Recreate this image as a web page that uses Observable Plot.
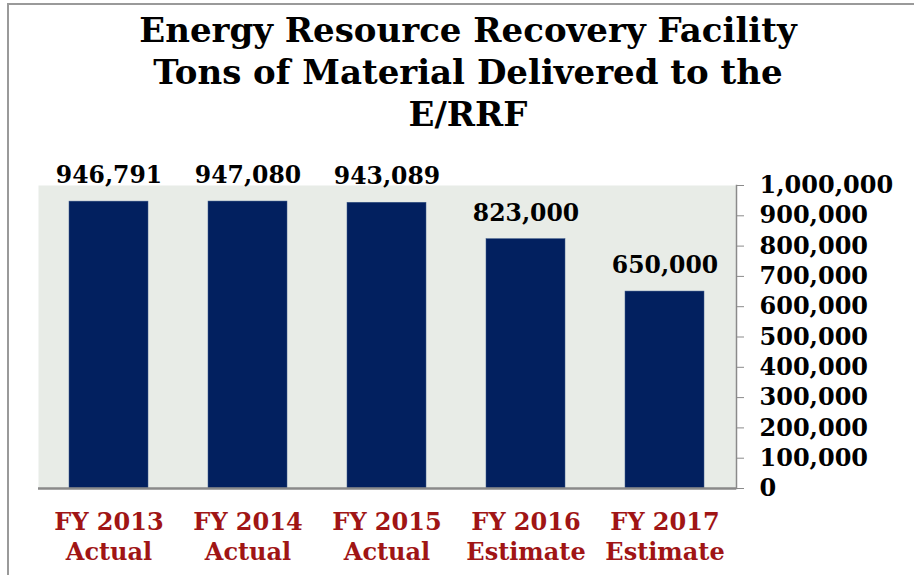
<!DOCTYPE html>
<html>
<head>
<meta charset="utf-8">
<script src="https://cdn.jsdelivr.net/npm/d3@7"></script>
<script src="https://cdn.jsdelivr.net/npm/@observablehq/plot@0.6"></script>
<style>
  html, body { margin: 0; padding: 0; background: #fff; }
  #page { position: relative; width: 914px; height: 575px; overflow: hidden; }
  #border { position: absolute; left: 7px; top: 3px; width: 1000px; height: 700px;
            border-left: 2px solid #9a9a9a; border-top: 2px solid #9a9a9a; }
  #title { position: absolute; left: 0; top: 0; width: 936px; height: 150px; text-align: center;
           font-family: "DejaVu Serif", serif; font-weight: bold;
           font-size: 34px; line-height: 42px; padding-top: 9px; box-sizing: border-box; color: #000; }
  #chart { position: absolute; left: 0; top: 150px; }
  g[aria-label="x-axis tick label"] text { fill: #a01515; }
</style>
</head>
<body>
<div id="page">
  <div id="border"></div>
  <div id="title">Energy Resource Recovery Facility<br>Tons of Material Delivered to the<br>E/RRF</div>
  <div id="chart"></div>
</div>
<script>
const categories = ["FY 2013\nActual", "FY 2014\nActual", "FY 2015\nActual", "FY 2016\nEstimate", "FY 2017\nEstimate"];
const values = [946791, 947080, 943089, 823000, 650000];
const yTicks = [0, 100000, 200000, 300000, 400000, 500000, 600000, 700000, 800000, 900000, 1000000];

const data = categories.map((c, i) => ({category: c, value: values[i]}));
const fmt = d3.format(",");
const serif = "'DejaVu Serif', serif";

const chart = Plot.plot({
  width: 914,
  height: 425,
  marginTop: 35,
  marginBottom: 87,
  marginLeft: 38,
  marginRight: 178,
  style: {background: "transparent", overflow: "visible"},
  x: {domain: categories, paddingInner: 0.43, paddingOuter: 0.215, label: null},
  y: {domain: [0, 1000000], label: null},
  marks: [
    Plot.frame({fill: "#e8ece7", stroke: null}),
    Plot.barY(data, {x: "category", y: "value", fill: "#02205f", stroke: "#3d5a8a", strokeWidth: 0.5}),
    Plot.text(data, {x: "category", y: "value", text: d => fmt(d.value), dy: -26,
      fontFamily: serif, fontWeight: "bold", fontSize: 23.5, fill: "#000"}),
    Plot.axisY({anchor: "right", ticks: yTicks, tickFormat: fmt, tickSize: 7, tickPadding: 16,
      stroke: "#8a8a8a", fill: "#000", fontFamily: serif, fontWeight: "bold", fontSize: 24, textAnchor: "start"}),
    Plot.frame({anchor: "right", stroke: "#8a8a8a", strokeWidth: 1.5}),
    Plot.ruleY([0], {stroke: "#8a8a8a", strokeWidth: 2.5}),
    Plot.axisX({tickSize: 0, tickPadding: 20, lineHeight: 1.25, fill: "#a01515",
      fontFamily: serif, fontWeight: "bold", fontSize: 24})
  ]
});
document.getElementById("chart").appendChild(chart);
</script>
</body>
</html>
